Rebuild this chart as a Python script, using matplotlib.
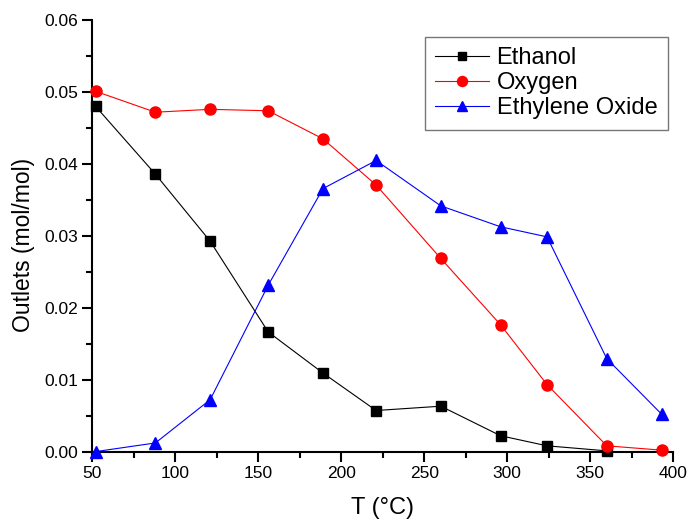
import matplotlib
matplotlib.use("Agg")
import matplotlib.pyplot as plt
from matplotlib.ticker import MultipleLocator, FormatStrFormatter

plt.rcParams['font.family'] = ['Liberation Sans', 'DejaVu Sans']

# temperatures (°C)
temp = [52, 88, 121, 156, 189, 221, 260, 296, 324, 360, 393]

ethanol = [0.0480, 0.0386, 0.0293, 0.0167, 0.0110, 0.0058, 0.0064, 0.0023, 0.0009, 0.0002]
oxygen = [0.0501, 0.0472, 0.0476, 0.0474, 0.0435, 0.0371, 0.0269, 0.0177, 0.0094, 0.0009, 0.0003]
eth_oxide = [0.0001, 0.0013, 0.0073, 0.0232, 0.0366, 0.0405, 0.0342, 0.0313, 0.0299, 0.0130, 0.0053]

fig = plt.figure(figsize=(6.89, 5.19), dpi=100)
ax = fig.add_axes([0.134, 0.1285, 0.843, 0.833])

ax.plot(temp[:len(ethanol)], ethanol, color='black', lw=0.8, marker='s', ms=7,
        mfc='black', mec='black', label='Ethanol', clip_on=False, zorder=3)
ax.plot(temp, oxygen, color='red', lw=0.8, marker='o', ms=8,
        mfc='red', mec='red', label='Oxygen', clip_on=False, zorder=4)
ax.plot(temp, eth_oxide, color='blue', lw=0.8, marker='^', ms=8.5,
        mfc='blue', mec='blue', label='Ethylene Oxide', clip_on=False, zorder=5)

ax.set_xlim(50, 400)
ax.set_ylim(0, 0.06)
ax.xaxis.set_major_locator(MultipleLocator(50))
ax.xaxis.set_minor_locator(MultipleLocator(25))
ax.yaxis.set_major_locator(MultipleLocator(0.01))
ax.yaxis.set_minor_locator(MultipleLocator(0.005))
ax.yaxis.set_major_formatter(FormatStrFormatter('%.2f'))

for s in ['top', 'right']:
    ax.spines[s].set_visible(False)
for s in ['left', 'bottom']:
    ax.spines[s].set_linewidth(1.5)

ax.tick_params(which='major', direction='out', length=7, width=1.5, labelsize=12.5)
ax.tick_params(which='minor', direction='out', length=4, width=1.5)
ax.tick_params(axis='x', which='major', pad=3)
ax.tick_params(axis='y', which='major', pad=3)

ax.set_xlabel('T (°C)', fontsize=17, va='center')
ax.xaxis.set_label_coords(0.5, -0.129)
ax.set_ylabel('Outlets (mol/mol)', fontsize=16.5, va='center')
ax.yaxis.set_label_coords(-0.118, 0.48)

leg = ax.legend(loc='upper right', bbox_to_anchor=(0.991, 0.961), borderaxespad=0,
                fontsize=17, frameon=True, fancybox=False, edgecolor='#555555',
                handlelength=2.3, borderpad=0.45, labelspacing=0.12,
                handletextpad=0.3, markerscale=0.9)
leg.get_frame().set_linewidth(1.0)

fig.savefig('out.png', dpi=100)
